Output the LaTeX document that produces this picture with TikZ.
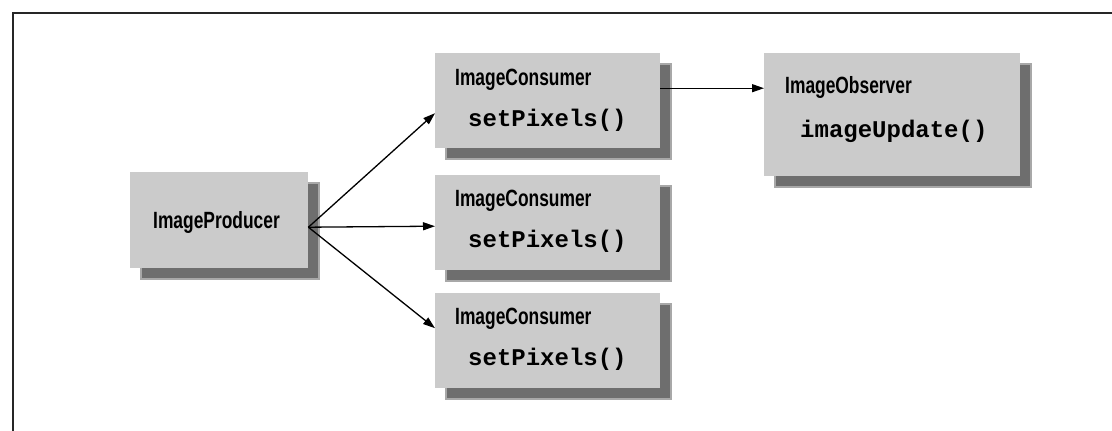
\documentclass[tikz,border=0pt]{standalone}
\usepackage{fontspec}
\usetikzlibrary{arrows.meta,backgrounds,calc}
\newfontfamily\titlefont[FakeStretch=0.74]{Liberation Sans}
\newfontfamily\codefont{Liberation Mono}
\definecolor{boxfill}{HTML}{CBCBCB}
\definecolor{shadowdark}{HTML}{6E6E6E}
\definecolor{shadowlight}{HTML}{A8A8A8}
\begin{document}
\begin{tikzpicture}[x=1pt,y=-1pt,
  box/.style={fill=boxfill, draw=none, anchor=north west, inner sep=0pt},
  titletext/.style={anchor=base west, inner sep=0pt, font=\titlefont\bfseries\fontsize{23.5}{25}\selectfont},
  codetext/.style={anchor=base west, inner sep=0pt, font=\codefont\bfseries\fontsize{24}{26}\selectfont},
  arr/.style={line width=1.3pt, -{Triangle[length=12pt,width=8pt]}},
  shadowbox/.style={fill=shadowdark, draw=shadowlight, line width=2pt}
]
\useasboundingbox (0,0) rectangle (1112,431);
% frame
\draw[line width=2pt, black!85] (13,431) -- (13,13) -- (1112,13);

% boxes
\node[box, minimum width=178pt, minimum height=96pt] (p) at (130,172) {};
\node[box, minimum width=225pt, minimum height=95pt] (c1) at (435,53) {};
\node[box, minimum width=225pt, minimum height=95pt] (c2) at (435,175) {};
\node[box, minimum width=225pt, minimum height=95pt] (c3) at (435,293) {};
\node[box, minimum width=256pt, minimum height=123pt] (o) at (764,53) {};

% shadows
\begin{scope}[on background layer]
  \foreach \n in {p,c1,c2,c3,o}{
    \filldraw[shadowbox] ([shift={(11pt,-11pt)}]\n.south west) rectangle ([shift={(11pt,-11pt)}]\n.north east);
  }
\end{scope}

% texts
\node[titletext] (pt) at (153,228) {ImageProducer};
\node[titletext] (c1t) at (455,85) {ImageConsumer};
\node[codetext] (c1m) at (468,126) {setPixels()};
\node[titletext] (c2t) at (455,206) {ImageConsumer};
\node[codetext] (c2m) at (468,247) {setPixels()};
\node[titletext] (c3t) at (455,324) {ImageConsumer};
\node[codetext] (c3m) at (468,365) {setPixels()};
\node[titletext] (ot) at (785,93) {ImageObserver};
\node[codetext] (om) at (800,137) {imageUpdate()};

% connectors
\coordinate (src) at ([yshift=-7pt]p.east);
\draw[arr] (src) -- ([yshift=-12.5pt]c1.west);
\draw[arr] (src) -- ([yshift=-3.5pt]c2.west);
\draw[arr] (src) -- ([yshift=12.5pt]c3.west);
\draw[arr] ([yshift=12.5pt]c1.east) -- ([yshift=26.5pt]o.west);
\end{tikzpicture}
\end{document}
